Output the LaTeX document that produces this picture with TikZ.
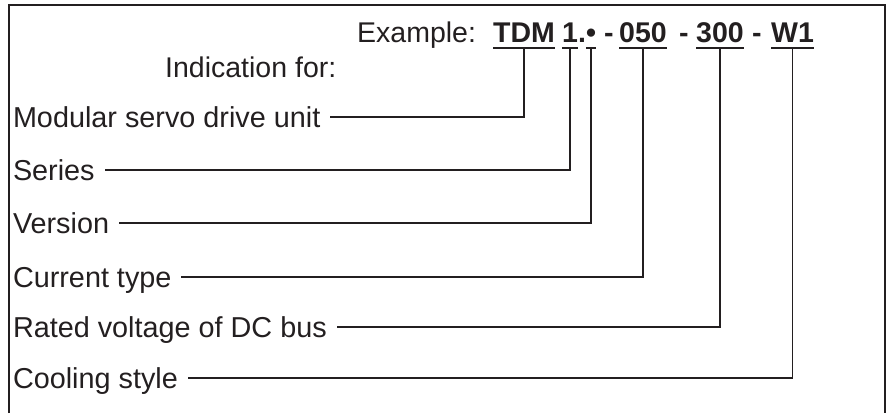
\documentclass[tikz,border=0pt]{standalone}
\usepackage{fontspec}
\setmainfont{Liberation Sans}
\definecolor{ink}{RGB}{35,31,32}

\begin{document}
\begin{tikzpicture}[
    x=1pt, y=-1pt,
    lbl/.style={
        font=\fontsize{28.8}{34}\selectfont,
        text=ink,
        inner sep=0pt,
        outer xsep=10pt,
        text height=20pt,
        text depth=0pt,
        anchor=base west
    },
    head/.style={
        font=\fontsize{28.5}{34}\selectfont,
        text=ink,
        inner sep=0pt,
        anchor=base west
    },
    code/.style={
        head,
        font=\bfseries\fontsize{28.5}{34}\selectfont
    },
    line/.style={
        draw=ink,
        line width=1.7pt
    }
]
    \useasboundingbox (0,0) rectangle (893,413);

    % frame, open at the bottom
    \draw[line] (9,413) |- (885,5) -- (885,413);

    % example code
    \node[head] (example) at (357,42) {Example:};
    \node[code] (tdm)   at (493,42) {TDM};
    \node[code] (one)   at (562,42) {1};
    \node[code] (stop)  at (578,42) {.};
    \node[code] (bul)   at (586,42) {•};
    \node[code] (dasha) at (604,42) {-};
    \node[code] (cur)   at (619,42) {050};
    \node[code] (dashb) at (679,42) {-};
    \node[code] (volt)  at (696,42) {300};
    \node[code] (dashc) at (752,42) {-};
    \node[code] (cool)  at (771,42) {W1};

    \node[head] (indic) at (165,77) {Indication for:};

    % labels
    \node[lbl] (modular) at (3,127) {Modular servo drive unit};
    \node[lbl] (series)  at (3,180) {Series};
    \node[lbl] (version) at (3,233) {Version};
    \node[lbl] (current) at (3,287) {Current type};
    \node[lbl] (rated)   at (3,337) {Rated voltage of DC bus};
    \node[lbl] (cooling) at (3,388) {Cooling style};

    % underlines
    \foreach \n in {tdm,one,bul,cur,volt,cool}
        \draw[line] ([yshift=-6pt]\n.base west) -- ([yshift=-6pt]\n.base east);

    % connectors
    \draw[line] ([yshift=-6pt]tdm.base)  |- (modular.east);
    \draw[line] ([yshift=-6pt]one.base)  |- (series.east);
    \draw[line] ([yshift=-6pt]bul.base)  |- (version.east);
    \draw[line] ([yshift=-6pt]cur.base)  |- (current.east);
    \draw[line] ([yshift=-6pt]volt.base) |- (rated.east);
    \draw[line] ([yshift=-6pt]cool.base) |- (cooling.east);

\end{tikzpicture}
\end{document}
